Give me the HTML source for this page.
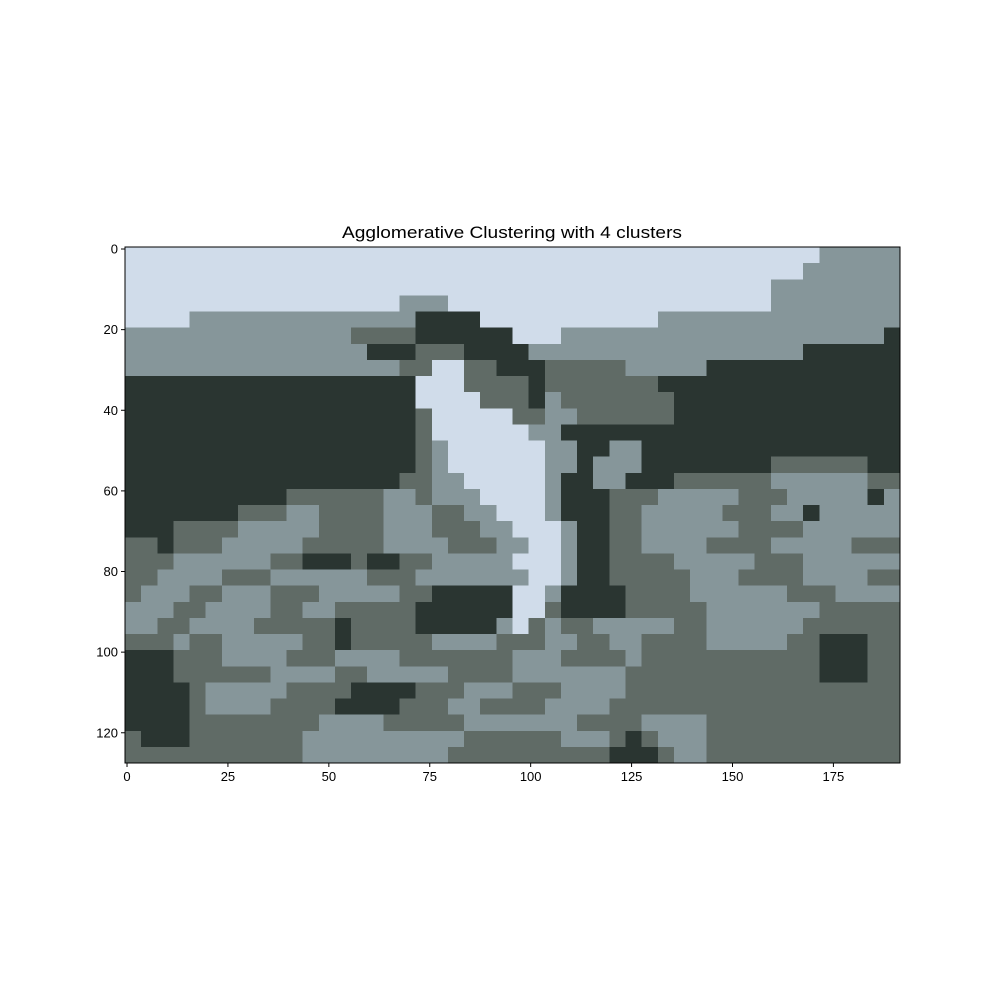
<!DOCTYPE html>
<html><head><meta charset="utf-8"><style>
body{margin:0;background:#fff;}
svg text{font-family:"Liberation Sans","DejaVu Sans",sans-serif;}
</style></head><body>
<svg id="chart" width="1000" height="1000" viewBox="0 0 1000 1000" xmlns="http://www.w3.org/2000/svg">
<rect width="1000" height="1000" fill="#fff"/>
<text x="512" y="238" font-size="16.7" text-anchor="middle" textLength="340" lengthAdjust="spacingAndGlyphs">Agglomerative Clustering with 4 clusters</text>
<g id="cells" shape-rendering="crispEdges"></g>
<g id="axes"></g>
</svg>
<script>
const imgWidth = 192, imgHeight = 128, block = 4;
const clusterColors = {L:"#d0dcea", M:"#86969a", D:"#606b66", K:"#2a3531"};
const xTicks = [0,25,50,75,100,125,150,175];
const yTicks = [0,20,40,60,80,100,120];
const rows = [
"L43 M5","L42 M6","L40 M8","L17 M3 L20 M8",
"L4 M14 K4 L11 M15","M14 D4 K6 L3 M20 K1","M15 K3 D3 K4 M17 K6","M17 D2 L2 D2 K3 D5 M5 K12",
"K18 L3 D4 K1 D7 K15","K18 L4 D3 K1 M1 D7 K14","K18 D1 L5 D2 M2 D6 K14","K18 D1 L6 M2 K21",
"K18 D1 M1 L6 M2 K2 M2 K16","K18 D1 M1 L6 M2 K1 M3 K8 D6 K2","K17 D2 M2 L5 M1 K2 M2 K3 D6 M6 D2",
"K10 D6 M2 D1 M3 L4 M1 K3 D3 M5 D3 M5 K1 M1","K7 D3 M2 D4 M3 D2 M2 L3 M1 K3 D2 M5 D3 M2 K1 M5",
"K3 D4 M5 D4 M3 D3 M2 L3 M1 K2 D2 M6 D4 M6","D2 K1 D3 M5 D5 M4 D3 M2 L2 M1 K2 D2 M4 D4 M5 D3",
"D3 M6 D2 K3 D1 K2 D2 M5 L3 M1 K2 D4 M5 D3 M6","D2 M4 D3 M6 D3 M7 L2 M1 K2 D5 M3 D4 M4 D2",
"D1 M3 D2 M3 D3 M5 D2 K5 L2 M1 K4 D4 M6 D3 M4","M3 D2 M4 D2 M2 D5 K6 L2 D1 K4 D5 M7 D5",
"M2 D2 M4 D5 K1 D4 K5 M1 L1 D1 M1 D2 M5 D2 M6 D6","D3 M1 D2 M5 D2 K1 D5 M4 D3 M2 D2 M2 D4 M5 D2 K3 D2",
"K3 D3 M4 D3 M4 D7 M3 D4 M1 D11 K3 D2","K3 D6 M4 D2 M5 D4 M7 D12 K3 D2",
"K4 D1 M5 D4 K4 D3 M3 D3 M4 D17","K4 D1 M4 D4 K4 D3 M2 D4 M4 D18",
"K4 D8 M4 D5 M7 D4 M4 D12","D1 K3 D7 M10 D6 M3 D1 K1 D1 M3 D12","D11 M9 D10 K3 D1 M2 D12"
];
const X0=125, X1=900, Y0=247, Y1=763;
const sx = v => X0 + (v+0.5)*(X1-X0)/imgWidth;
const sy = v => Y0 + (v+0.5)*(Y1-Y0)/imgHeight;
const ex = v => X0 + v*(X1-X0)/imgWidth;
const ey = v => Y0 + v*(Y1-Y0)/imgHeight;
const NS="http://www.w3.org/2000/svg";
const cells=document.getElementById('cells');
rows.forEach((row,r)=>{
  let c=0;
  row.split(' ').forEach(run=>{
    const k=run[0], n=parseInt(run.slice(1));
    const rect=document.createElementNS(NS,'rect');
    
    
    rect.setAttribute('x',ex(c*block));
    rect.setAttribute('y',ey(r*block));
    rect.setAttribute('width',ex((c+n)*block)-ex(c*block)+0.5);
    rect.setAttribute('height',ey((r+1)*block)-ey(r*block)+0.5);
    rect.setAttribute('fill',clusterColors[k]);
    cells.appendChild(rect);
    c+=n;
  });
});
const axes=document.getElementById('axes');
const frame=document.createElementNS(NS,'rect');


frame.setAttribute('x',X0);frame.setAttribute('y',Y0);
frame.setAttribute('width',X1-X0);frame.setAttribute('height',Y1-Y0);
frame.setAttribute('fill','none');frame.setAttribute('stroke','#000');frame.setAttribute('stroke-width','1');
axes.appendChild(frame);
xTicks.forEach(t=>{
  const x=sx(t);
  const l=document.createElementNS(NS,'line');
  
  
  l.setAttribute('x1',x);l.setAttribute('x2',x);l.setAttribute('y1',Y1);l.setAttribute('y2',Y1+4);
  l.setAttribute('stroke','#000');axes.appendChild(l);
  const tx=document.createElementNS(NS,'text');
  
  
  tx.setAttribute('x',x);tx.setAttribute('y',Y1+18);tx.setAttribute('font-size','13');
  tx.setAttribute('text-anchor','middle');tx.textContent=t;axes.appendChild(tx);
});
yTicks.forEach(t=>{
  const y=sy(t);
  const l=document.createElementNS(NS,'line');
  
  
  l.setAttribute('x1',X0-4);l.setAttribute('x2',X0);l.setAttribute('y1',y);l.setAttribute('y2',y);
  l.setAttribute('stroke','#000');axes.appendChild(l);
  const tx=document.createElementNS(NS,'text');
  
  
  tx.setAttribute('x',X0-7);tx.setAttribute('y',y+4.5);tx.setAttribute('font-size','13');
  tx.setAttribute('text-anchor','end');tx.textContent=t;axes.appendChild(tx);
});
</script>
</body></html>
